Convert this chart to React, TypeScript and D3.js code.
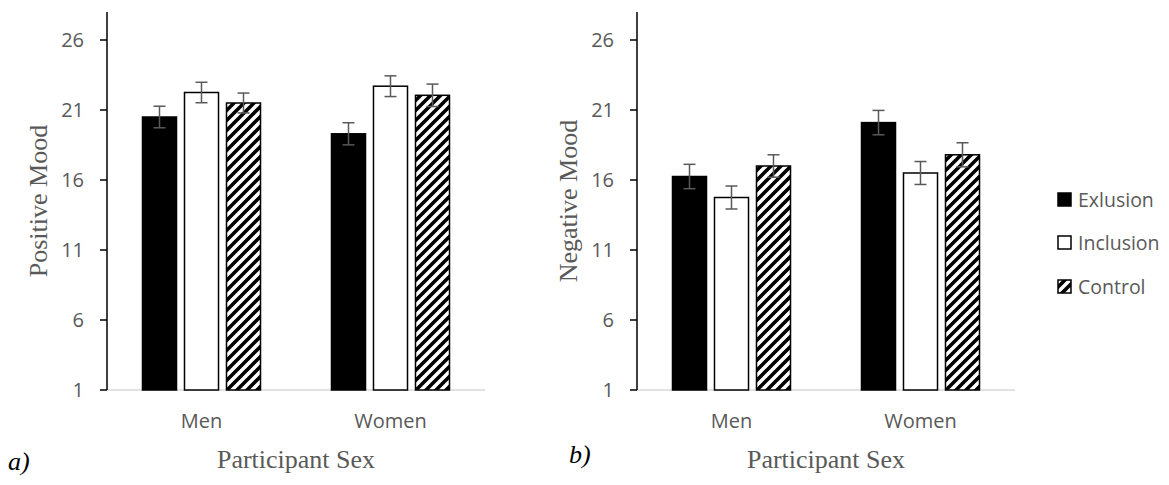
import React from 'react';
import * as d3 from 'd3';

const categories = ['Men', 'Women'];
const series = ['Exlusion', 'Inclusion', 'Control'];
const yTicks = [1, 6, 11, 16, 21, 26];

// positive mood, one array per category (Exlusion, Inclusion, Control)
const positiveMen = [20.5, 22.25, 21.5];
const positiveWomen = [19.3, 22.7, 22.05];
const positiveErrMen = [0.77, 0.73, 0.71];
const positiveErrWomen = [0.79, 0.74, 0.8];

// negative mood
const negativeMen = [16.25, 14.75, 17.0];
const negativeWomen = [20.1, 16.5, 17.8];
const negativeErrMen = [0.87, 0.82, 0.8];
const negativeErrWomen = [0.87, 0.82, 0.86];

const width = 1169;
const height = 485;
const plotTop = 12;
const plotBottom = 390;
const plotWidth = 378;

const grey = '#595959';
const sansFont = '"Open Sans", sans-serif';
const serifFont = '"Liberation Serif", "Times New Roman", serif';

const fills: Record<string, string> = {
  Exlusion: '#000',
  Inclusion: '#fff',
  Control: 'url(#hatch)',
};

const yScale = d3.scaleLinear().domain([1, 28]).range([plotBottom, plotTop]);
const x0 = d3.scaleBand().domain(categories).range([0, plotWidth]).padding(0);
const x1 = d3
  .scaleBand()
  .domain(series)
  .range([0, x0.bandwidth()])
  .paddingInner(0.19)
  .paddingOuter(0.845);

type PanelProps = {
  left: number;
  title: string;
  values: number[][];
  errors: number[][];
};

const Panel = ({ left, title, values, errors }: PanelProps) => {
  return (
    <g transform={`translate(${left}, 0)`}>
      {/* baseline */}
      <line x1={0} x2={plotWidth} y1={plotBottom} y2={plotBottom} stroke="#d9d9d9" strokeWidth={1.5} />

      {/* bars */}
      {categories.map((cat, ci) => (
        <g key={cat} transform={`translate(${x0(cat)}, 0)`}>
          {series.map((s, si) => {
            const v = values[ci][si];
            const e = errors[ci][si];
            const bx = x1(s)!;
            const cx = bx + x1.bandwidth() / 2;
            return (
              <g key={s}>
                <rect
                  x={bx}
                  y={yScale(v)}
                  width={x1.bandwidth()}
                  height={yScale(1) - yScale(v)}
                  fill={fills[s]}
                  stroke="#000"
                  strokeWidth={1.5}
                />
                <g stroke={grey} strokeWidth={1.5}>
                  <line x1={cx} x2={cx} y1={yScale(v + e)} y2={yScale(v - e)} />
                  <line x1={cx - 6} x2={cx + 6} y1={yScale(v + e)} y2={yScale(v + e)} />
                  <line x1={cx - 6} x2={cx + 6} y1={yScale(v - e)} y2={yScale(v - e)} />
                </g>
              </g>
            );
          })}
          <text
            x={x0.bandwidth() / 2}
            y={428}
            textAnchor="middle"
            fontFamily={sansFont}
            fontSize={20}
            fill={grey}
          >
            {cat}
          </text>
        </g>
      ))}

      {/* y axis */}
      <line x1={0} x2={0} y1={plotTop} y2={plotBottom} stroke="#000" strokeWidth={1.5} />
      {yTicks.map(t => (
        <g key={t} transform={`translate(0, ${yScale(t)})`}>
          <line x1={-7} x2={0} stroke="#000" strokeWidth={1.5} />
          <text
            x={-23}
            dy="0.35em"
            textAnchor="end"
            fontFamily={sansFont}
            fontSize={20}
            fill={grey}
          >
            {t}
          </text>
        </g>
      ))}

      {/* axis titles */}
      <text
        transform={`translate(-60, ${(plotTop + plotBottom) / 2}) rotate(-90)`}
        textAnchor="middle"
        fontFamily={serifFont}
        fontSize={26}
        fill={grey}
      >
        {title}
      </text>
      <text
        x={plotWidth / 2}
        y={468}
        textAnchor="middle"
        fontFamily={serifFont}
        fontSize={26}
        fill={grey}
      >
        Participant Sex
      </text>
    </g>
  );
};

const legendY = [200, 243, 287];

export default function App() {
  return (
    <svg
      width={width}
      height={height}
      style={{ position: 'absolute', left: 0, top: 0, background: '#fff' }}
    >
      <defs>
        <pattern id="hatch" patternUnits="userSpaceOnUse" width={10} height={10}>
          <rect width={10} height={10} fill="#fff" />
          <path d="M-5,5 L5,-5 M0,10 L10,0 M5,15 L15,5" stroke="#000" strokeWidth={3.6} />
        </pattern>
      </defs>
      <rect width={width} height={height} fill="#fff" />

      <Panel
        left={107}
        title="Positive Mood"
        values={[positiveMen, positiveWomen]}
        errors={[positiveErrMen, positiveErrWomen]}
      />
      <Panel
        left={637}
        title="Negative Mood"
        values={[negativeMen, negativeWomen]}
        errors={[negativeErrMen, negativeErrWomen]}
      />

      <text x={8} y={470} fontFamily={serifFont} fontStyle="italic" fontSize={26} fill="#000">
        a)
      </text>
      <text x={569} y={463} fontFamily={serifFont} fontStyle="italic" fontSize={26} fill="#000">
        b)
      </text>

      {/* legend */}
      {series.map((s, i) => (
        <g key={s} transform={`translate(1058, ${legendY[i]})`}>
          <rect x={0} y={-7} width={13} height={13} fill={fills[s]} stroke="#000" strokeWidth={1.5} />
          <text
            x={20}
            dy="0.35em"
            fontFamily={sansFont}
            fontSize={19.5}
            fill={grey}
          >
            {s}
          </text>
        </g>
      ))}
    </svg>
  );
}
